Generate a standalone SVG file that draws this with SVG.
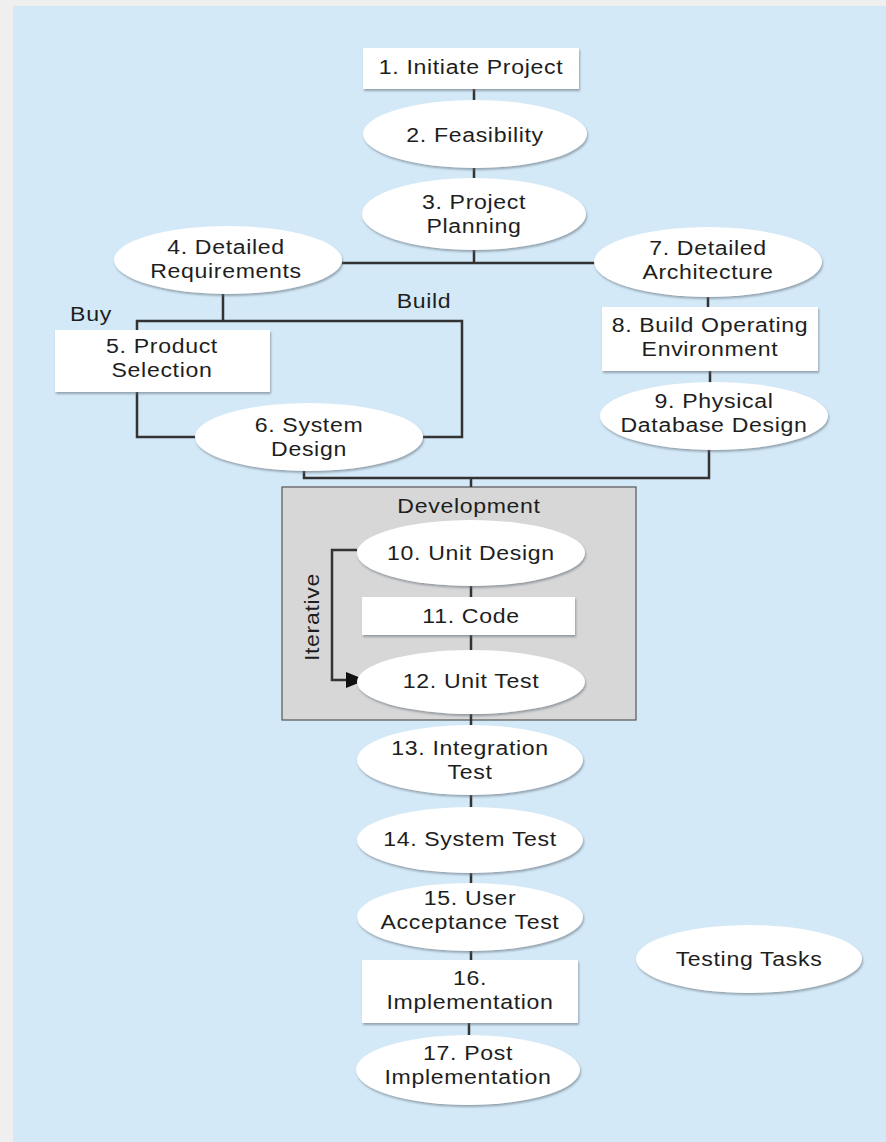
<svg xmlns="http://www.w3.org/2000/svg" width="886" height="1142" viewBox="0 0 886 1142">
  <defs>
    <filter id="sh" x="-10%" y="-10%" width="125%" height="130%">
      <feDropShadow dx="1" dy="2" stdDeviation="1" flood-color="#5f6b75" flood-opacity="0.55"/>
    </filter>
    <style>
      .nd { fill: #ffffff; filter: url(#sh); }
      .t { font-family: "Liberation Sans", Arial, sans-serif; font-size: 21px; fill: #1e1e1e; text-anchor: middle; letter-spacing: 0.6px; }
      .cn { stroke: #333; stroke-width: 2.5; fill: none; }
    </style>
  </defs>
  <rect x="0" y="0" width="886" height="1142" fill="#efefef"/>
  <rect x="13" y="6" width="873" height="1136" fill="#d3e9f7"/>

  <g id="dev-box">
    <rect x="282" y="487" width="354" height="233" fill="#d7d7d7" stroke="#555" stroke-width="1.2"/>
    <text class="t" transform="translate(469 0) scale(1.1 1)" x="0" y="513">Development</text>
  </g>

  <g id="connectors">
    <path class="cn" d="M474,89 V100 M474,168 V178 M474,250 V263 M342,263 H595"/>
    <path class="cn" d="M223,294 V321 M137,330 V321 H462 V437 H423 M137,392 V437 H196"/>
    <path class="cn" d="M708,297 V307 M710,371 V383 M709,450 V478 H304 V471 M471,478 V487"/>
    <path class="cn" d="M471,586 V597 M471,635 V650 M471,714 V725 M471,795 V807 M471,873 V883 M471,951 V960 M469,1023 V1035"/>
    <path class="cn" d="M357,550 H332 V680 H347"/>
    <polygon points="346,672 366,680 346,688" fill="#111"/>
  </g>

  <g id="labels">
    <text class="t" transform="translate(91 0) scale(1.1 1)" x="0" y="321">Buy</text>
    <text class="t" transform="translate(424 0) scale(1.1 1)" x="0" y="308">Build</text>
    <text class="t" transform="translate(319,617) rotate(-90) scale(1.1 1)" x="0" y="0">Iterative</text>
  </g>

  <g id="n1"><rect class="nd" x="363" y="48" width="216" height="41"/><text class="t" transform="translate(471 0) scale(1.1 1)" x="0" y="74">1. Initiate Project</text></g>
  <g id="n2"><ellipse class="nd" cx="475" cy="134" rx="112" ry="34"/><text class="t" transform="translate(475 0) scale(1.1 1)" x="0" y="142">2. Feasibility</text></g>
  <g id="n3"><ellipse class="nd" cx="474" cy="214" rx="112" ry="36"/><text class="t" transform="translate(474 0) scale(1.1 1)" x="0" y="209">3. Project<tspan x="0" dy="24">Planning</tspan></text></g>
  <g id="n4"><ellipse class="nd" cx="228" cy="260" rx="114" ry="34"/><text class="t" transform="translate(226 0) scale(1.1 1)" x="0" y="254">4. Detailed<tspan x="0" dy="24">Requirements</tspan></text></g>
  <g id="n5"><rect class="nd" x="55" y="330" width="215" height="62"/><text class="t" transform="translate(162 0) scale(1.1 1)" x="0" y="353">5. Product<tspan x="0" dy="24">Selection</tspan></text></g>
  <g id="n6"><ellipse class="nd" cx="309" cy="437" rx="114" ry="34"/><text class="t" transform="translate(309 0) scale(1.1 1)" x="0" y="432">6. System<tspan x="0" dy="24">Design</tspan></text></g>
  <g id="n7"><ellipse class="nd" cx="708" cy="262" rx="114" ry="35"/><text class="t" transform="translate(708 0) scale(1.1 1)" x="0" y="255">7. Detailed<tspan x="0" dy="24">Architecture</tspan></text></g>
  <g id="n8"><rect class="nd" x="602" y="307" width="216" height="64"/><text class="t" transform="translate(710 0) scale(1.1 1)" x="0" y="332">8. Build Operating<tspan x="0" dy="24">Environment</tspan></text></g>
  <g id="n9"><ellipse class="nd" cx="714" cy="416" rx="114" ry="34"/><text class="t" transform="translate(714 0) scale(1.1 1)" x="0" y="408">9. Physical<tspan x="0" dy="24">Database Design</tspan></text></g>
  <g id="n10"><ellipse class="nd" cx="471" cy="553" rx="114" ry="33"/><text class="t" transform="translate(471 0) scale(1.1 1)" x="0" y="560">10. Unit Design</text></g>
  <g id="n11"><rect class="nd" x="362" y="597" width="213" height="38"/><text class="t" transform="translate(471 0) scale(1.1 1)" x="0" y="623">11. Code</text></g>
  <g id="n12"><ellipse class="nd" cx="471" cy="682" rx="114" ry="32"/><text class="t" transform="translate(471 0) scale(1.1 1)" x="0" y="688">12. Unit Test</text></g>
  <g id="n13"><ellipse class="nd" cx="470" cy="760" rx="113" ry="35"/><text class="t" transform="translate(470 0) scale(1.1 1)" x="0" y="755">13. Integration<tspan x="0" dy="24">Test</tspan></text></g>
  <g id="n14"><ellipse class="nd" cx="470" cy="840" rx="113" ry="33"/><text class="t" transform="translate(470 0) scale(1.1 1)" x="0" y="846">14. System Test</text></g>
  <g id="n15"><ellipse class="nd" cx="470" cy="917" rx="113" ry="34"/><text class="t" transform="translate(470 0) scale(1.1 1)" x="0" y="905">15. User<tspan x="0" dy="24">Acceptance Test</tspan></text></g>
  <g id="n16"><rect class="nd" x="362" y="960" width="216" height="63"/><text class="t" transform="translate(470 0) scale(1.1 1)" x="0" y="985">16.<tspan x="0" dy="24">Implementation</tspan></text></g>
  <g id="n17"><ellipse class="nd" cx="468" cy="1070" rx="112" ry="35"/><text class="t" transform="translate(468 0) scale(1.1 1)" x="0" y="1060">17. Post<tspan x="0" dy="24">Implementation</tspan></text></g>
  <g id="testing"><ellipse class="nd" cx="749" cy="959" rx="113" ry="34"/><text class="t" transform="translate(749 0) scale(1.1 1)" x="0" y="966">Testing Tasks</text></g>
</svg>
